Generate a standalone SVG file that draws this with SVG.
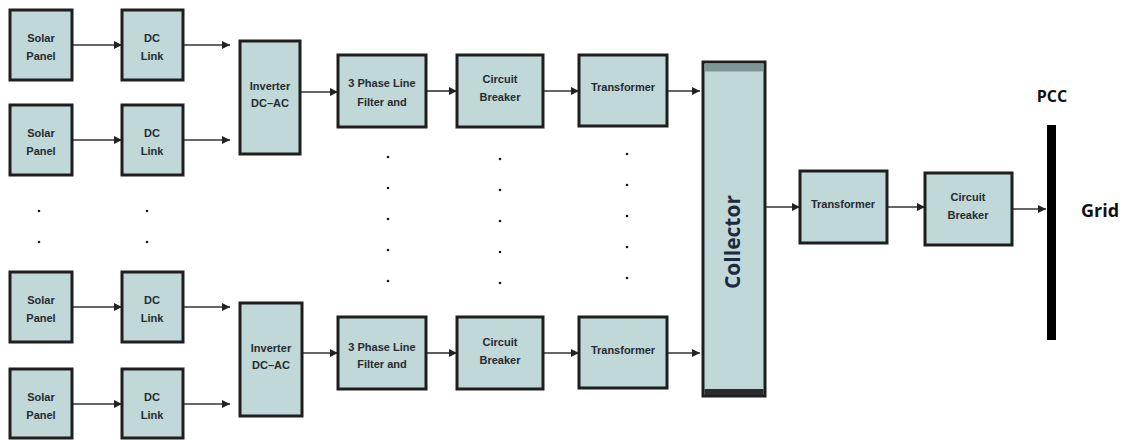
<svg xmlns="http://www.w3.org/2000/svg" width="1133" height="440" viewBox="0 0 1133 440">
<defs>
<style>
.box{fill:#c0d8d8;stroke:#1e1e1e;stroke-width:3}
.t{font-family:"Liberation Sans Narrow","Liberation Sans",Arial,sans-serif;font-weight:bold;font-size:11px;fill:#262b31;text-anchor:middle}
.c{stroke:#333;stroke-width:1.6;fill:none}
.dot{fill:#1a1a2e}
</style>
<marker id="ah" viewBox="0 0 10 10" refX="10" refY="5" markerWidth="8" markerHeight="8" markerUnits="userSpaceOnUse" orient="auto">
<path d="M0,0 L10,5 L0,10 z" fill="#222"/>
</marker>
</defs>
<rect width="1133" height="440" fill="#fff"/>

<g id="connectors">
<line class="c" x1="72" y1="45" x2="122" y2="45" marker-end="url(#ah)"/>
<line class="c" x1="183" y1="45" x2="230" y2="45" marker-end="url(#ah)"/>
<line class="c" x1="72" y1="140" x2="122" y2="140" marker-end="url(#ah)"/>
<line class="c" x1="183" y1="140" x2="230" y2="140" marker-end="url(#ah)"/>
<line class="c" x1="72" y1="307" x2="122" y2="307" marker-end="url(#ah)"/>
<line class="c" x1="183" y1="307" x2="230" y2="307" marker-end="url(#ah)"/>
<line class="c" x1="72" y1="404" x2="122" y2="404" marker-end="url(#ah)"/>
<line class="c" x1="183" y1="404" x2="230" y2="404" marker-end="url(#ah)"/>
<line class="c" x1="300" y1="92" x2="338" y2="92" marker-end="url(#ah)"/>
<line class="c" x1="426" y1="91" x2="457" y2="91" marker-end="url(#ah)"/>
<line class="c" x1="543" y1="91" x2="579" y2="91" marker-end="url(#ah)"/>
<line class="c" x1="667" y1="91" x2="700" y2="91" marker-end="url(#ah)"/>
<line class="c" x1="302" y1="353" x2="338" y2="353" marker-end="url(#ah)"/>
<line class="c" x1="426" y1="353" x2="457" y2="353" marker-end="url(#ah)"/>
<line class="c" x1="543" y1="353" x2="579" y2="353" marker-end="url(#ah)"/>
<line class="c" x1="667" y1="353" x2="700" y2="353" marker-end="url(#ah)"/>
<line class="c" x1="765" y1="207" x2="800" y2="207" marker-end="url(#ah)"/>
<line class="c" x1="887" y1="207" x2="925" y2="207" marker-end="url(#ah)"/>
<line class="c" x1="1012" y1="209" x2="1046" y2="209" marker-end="url(#ah)"/>
</g>

<g id="solar1"><rect class="box" x="10" y="10" width="62" height="70"/><text class="t" x="41" y="42">Solar</text><text class="t" x="41" y="60">Panel</text></g>
<g id="solar2"><rect class="box" x="10" y="105" width="62" height="70"/><text class="t" x="41" y="137">Solar</text><text class="t" x="41" y="155">Panel</text></g>
<g id="solar3"><rect class="box" x="10" y="272" width="62" height="70"/><text class="t" x="41" y="304">Solar</text><text class="t" x="41" y="322">Panel</text></g>
<g id="solar4"><rect class="box" x="10" y="369" width="62" height="69"/><text class="t" x="41" y="401">Solar</text><text class="t" x="41" y="419">Panel</text></g>

<g id="dclink1"><rect class="box" x="122" y="10" width="61" height="70"/><text class="t" x="152" y="42">DC</text><text class="t" x="152" y="60">Link</text></g>
<g id="dclink2"><rect class="box" x="122" y="105" width="61" height="70"/><text class="t" x="152" y="137">DC</text><text class="t" x="152" y="155">Link</text></g>
<g id="dclink3"><rect class="box" x="122" y="272" width="61" height="70"/><text class="t" x="152" y="304">DC</text><text class="t" x="152" y="322">Link</text></g>
<g id="dclink4"><rect class="box" x="122" y="369" width="61" height="69"/><text class="t" x="152" y="401">DC</text><text class="t" x="152" y="419">Link</text></g>

<g id="inverter1"><rect class="box" x="240" y="41" width="60" height="113"/><text class="t" x="270" y="90">Inverter</text><text class="t" x="270" y="107">DC–AC</text></g>
<g id="inverter2"><rect class="box" x="240" y="303" width="62" height="113"/><text class="t" x="271" y="352">Inverter</text><text class="t" x="271" y="369">DC–AC</text></g>

<g id="filter1"><rect class="box" x="338" y="55" width="88" height="72"/><text class="t" x="382" y="87">3 Phase Line</text><text class="t" x="382" y="106">Filter and</text></g>
<g id="cb1"><rect class="box" x="457" y="55" width="86" height="72"/><text class="t" x="500" y="83">Circuit</text><text class="t" x="500" y="101">Breaker</text></g>
<g id="tr1"><rect class="box" x="579" y="55" width="88" height="71"/><text class="t" x="623" y="91">Transformer</text></g>

<g id="filter2"><rect class="box" x="338" y="317" width="88" height="72"/><text class="t" x="382" y="351">3 Phase Line</text><text class="t" x="382" y="368">Filter and</text></g>
<g id="cb2"><rect class="box" x="457" y="317" width="86" height="72"/><text class="t" x="500" y="346">Circuit</text><text class="t" x="500" y="364">Breaker</text></g>
<g id="tr2"><rect class="box" x="579" y="317" width="88" height="71"/><text class="t" x="623" y="354">Transformer</text></g>

<g id="collector">
<rect class="box" x="703" y="62" width="62" height="334"/>
<rect x="704.5" y="63.5" width="59" height="8" fill="#7f9595"/>
<rect x="704.5" y="389" width="59" height="6" fill="#2a2a30"/>
<text x="740" y="242" transform="rotate(-90 740 242)" font-family="'Open Sans','Liberation Sans',Arial,sans-serif" font-weight="bold" font-size="21" fill="#1b2a3e" text-anchor="middle">Collector</text>
</g>

<g id="tr3"><rect class="box" x="800" y="171" width="87" height="72"/><text class="t" x="843" y="208">Transformer</text></g>
<g id="cb3"><rect class="box" x="925" y="173" width="87" height="72"/><text class="t" x="968" y="201">Circuit</text><text class="t" x="968" y="219">Breaker</text></g>

<g id="pcc">
<rect x="1047" y="125" width="9" height="215" fill="#000"/>
<text x="1052" y="102" font-family="'Open Sans','Liberation Sans',Arial,sans-serif" font-weight="bold" font-size="16" fill="#111" text-anchor="middle">PCC</text>
</g>
<g id="grid"><text x="1100" y="217" font-family="'Open Sans','Liberation Sans',Arial,sans-serif" font-weight="bold" font-size="18" fill="#111" text-anchor="middle">Grid</text></g>

<g id="dots">
<circle class="dot" cx="39" cy="211" r="1.3"/><circle class="dot" cx="39" cy="242" r="1.3"/>
<circle class="dot" cx="147" cy="211" r="1.3"/><circle class="dot" cx="147" cy="242" r="1.3"/>
<circle class="dot" cx="388" cy="157" r="1.3"/><circle class="dot" cx="388" cy="188" r="1.3"/><circle class="dot" cx="388" cy="219" r="1.3"/><circle class="dot" cx="388" cy="250" r="1.3"/><circle class="dot" cx="388" cy="281" r="1.3"/>
<circle class="dot" cx="500" cy="159" r="1.3"/><circle class="dot" cx="500" cy="190" r="1.3"/><circle class="dot" cx="500" cy="221" r="1.3"/><circle class="dot" cx="500" cy="252" r="1.3"/><circle class="dot" cx="500" cy="283" r="1.3"/>
<circle class="dot" cx="627" cy="154" r="1.3"/><circle class="dot" cx="627" cy="185" r="1.3"/><circle class="dot" cx="627" cy="216" r="1.3"/><circle class="dot" cx="627" cy="247" r="1.3"/><circle class="dot" cx="627" cy="278" r="1.3"/>
</g>
</svg>
